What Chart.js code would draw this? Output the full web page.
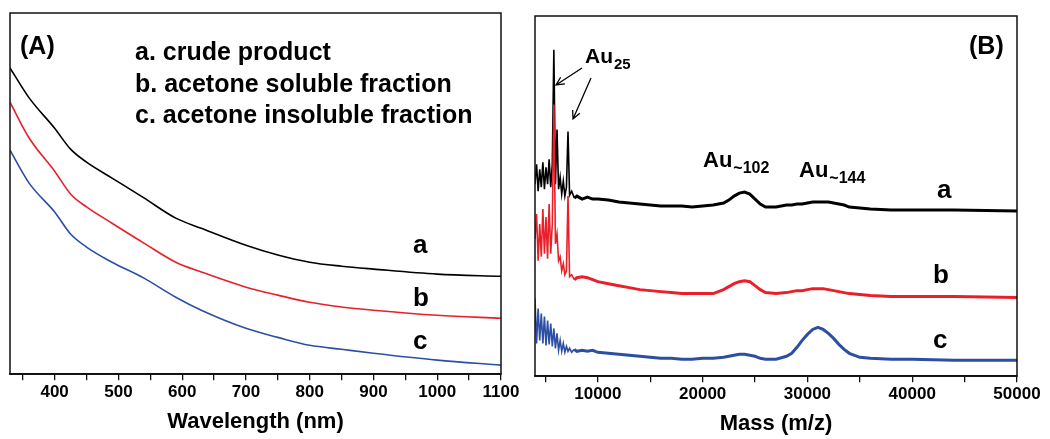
<!DOCTYPE html>
<html>
<head>
<meta charset="utf-8">
<script src="https://cdn.jsdelivr.net/npm/chart.js@4"></script>
<style>
  body { margin: 0; background: #fff; }
  #boxA { position: absolute; left: 0; top: 0; width: 530px; height: 439px; }
  #boxB { position: absolute; left: 520px; top: 0; width: 530px; height: 439px; }
</style>
</head>
<body>
<div id="boxA"><canvas id="uvChart"></canvas></div>
<div id="boxB"><canvas id="msChart"></canvas></div>
<script>
// (A) spectres UV-vis : longueur d'onde (nm) et absorbance (u.a.)
const wavelengths  = [330, 360, 400, 425, 450, 490, 540, 590, 630, 700, 750, 800, 850, 900, 1000, 1100];
const absCrude     = [0.848, 0.765, 0.681, 0.623, 0.587, 0.543, 0.488, 0.432, 0.404, 0.357, 0.330, 0.310, 0.299, 0.291, 0.277, 0.271];
const absSoluble   = [0.753, 0.654, 0.562, 0.499, 0.463, 0.418, 0.363, 0.310, 0.283, 0.241, 0.219, 0.199, 0.186, 0.177, 0.163, 0.155];
const absInsoluble = [0.620, 0.529, 0.449, 0.388, 0.352, 0.310, 0.266, 0.213, 0.177, 0.127, 0.102, 0.080, 0.069, 0.058, 0.039, 0.025];
const uvTicks = [350, 400, 450, 500, 550, 600, 650, 700, 750, 800, 850, 900, 950, 1000, 1050, 1100];

// (B) spectres de masse : m/z et intensité (u.a.)
const massX = [4000, 4150, 4300, 4450, 4600, 4750, 4900, 5050, 5200, 5350, 5500, 5650, 5800,
  5950, 6100, 6250, 6400, 6550, 6700, 6850, 7000, 7150, 7300,
  7500, 7750, 8000, 8500, 9000, 9500, 10000,
  11000, 12000, 13000, 14000, 15000, 16000, 17000, 18000, 19000, 20000, 21000,
  22000, 22500, 23000, 23500, 24000, 24500, 25000, 25500, 26000,
  27000, 28000, 28500, 29000, 29500, 30000, 30500, 31000, 31500, 32000, 32500, 33000, 33500, 34000,
  35000, 36000, 38000, 40000, 44000, 50000];
const msCrude = [193, 213, 186, 208, 190, 215, 188, 210, 193, 218, 190, 213, 328,
  193, 248, 188, 200, 183, 196, 181, 190, 246, 182,
  186, 179, 181, 178, 180, 178, 178,
  177, 175, 174, 173, 172, 171, 171, 171, 170, 171, 172,
  174, 177, 181, 184, 185, 183, 178, 173, 170,
  170, 172, 172, 173, 173, 174, 175, 175, 175, 175, 174, 173, 172, 170,
  169, 168, 167, 167, 167, 166];
const msSoluble = [138, 163, 116, 153, 120, 168, 123, 160, 118, 173, 123, 153, 273,
  133, 143, 116, 120, 106, 113, 102, 106, 181, 100,
  102, 97, 99, 100, 99, 97, 95,
  93, 91, 89, 87, 86, 85, 84, 83, 83, 83, 83,
  87, 90, 93, 95, 96, 95, 91, 87, 84,
  83, 84, 85, 86, 86, 87, 88, 88, 88, 87, 86, 85, 84, 83,
  82, 81, 80, 80, 80, 79];
const msInsoluble = [78, 33, 68, 36, 63, 33, 60, 31, 56, 32, 53, 30, 48,
  28, 43, 26, 36, 25, 33, 24, 30, 25, 28,
  24, 27, 25, 26, 25, 26, 24,
  23, 22, 21, 20, 19, 18, 18, 17, 17, 18, 18,
  19, 20, 21, 22, 22, 21, 20, 18, 17,
  17, 20, 23, 29, 36, 42, 47, 49, 47, 43, 38, 32, 27, 23,
  19, 18, 17, 17, 16, 16];
const massTicks = [5000, 10000, 15000, 20000, 25000, 30000, 35000, 40000, 45000, 50000];

const BLACK = '#000000';
const RED = '#e8202a';
const BLUE = '#2d4fa3';
const FONT = '"Liberation Sans", Arial, sans-serif';

// Cadre autour de la zone de tracé
const framePlugin = {
  id: 'frame',
  afterDatasetsDraw(chart) {
    const { ctx, chartArea: a } = chart;
    ctx.save();
    ctx.strokeStyle = '#111';
    ctx.lineWidth = 1.5;
    ctx.strokeRect(a.left, a.top, a.right - a.left, a.bottom - a.top);
    ctx.restore();
  }
};

function pts(xs, ys) {
  return xs.map((x, i) => ({ x: x, y: ys[i] }));
}

// Texte avec indice (Au25, Au~102...)
function subText(ctx, x, y, main, sub, size, subSize) {
  ctx.font = `bold ${size}px ${FONT}`;
  ctx.fillText(main, x, y);
  const w = ctx.measureText(main).width;
  ctx.font = `bold ${subSize}px ${FONT}`;
  ctx.fillText(sub, x + w + 1, y + 6);
}

function arrow(ctx, x1, y1, x2, y2) {
  const ang = Math.atan2(y2 - y1, x2 - x1);
  const len = 9;
  ctx.beginPath();
  ctx.moveTo(x1, y1);
  ctx.lineTo(x2, y2);
  ctx.moveTo(x2 - len * Math.cos(ang - 0.45), y2 - len * Math.sin(ang - 0.45));
  ctx.lineTo(x2, y2);
  ctx.lineTo(x2 - len * Math.cos(ang + 0.45), y2 - len * Math.sin(ang + 0.45));
  ctx.stroke();
}

const labelsA = {
  id: 'labelsA',
  afterDraw(chart) {
    const ctx = chart.ctx;
    ctx.save();
    ctx.fillStyle = '#000';
    ctx.textBaseline = 'alphabetic';
    ctx.font = `bold 25px ${FONT}`;
    ctx.fillText('(A)', 20, 54);
    ctx.fillText('a. crude product', 135, 60);
    ctx.fillText('b. acetone soluble fraction', 135, 92);
    ctx.fillText('c. acetone insoluble fraction', 135, 123);
    ctx.font = `bold 26px ${FONT}`;
    ctx.fillText('a', 413, 253);
    ctx.fillText('b', 413, 306);
    ctx.fillText('c', 413, 349);
    ctx.restore();
  }
};

const labelsB = {
  id: 'labelsB',
  afterDraw(chart) {
    const ctx = chart.ctx;
    ctx.save();
    ctx.fillStyle = '#000';
    ctx.strokeStyle = '#000';
    ctx.lineWidth = 1.3;
    ctx.textBaseline = 'alphabetic';
    ctx.font = `bold 25px ${FONT}`;
    ctx.fillText('(B)', 449, 54);
    subText(ctx, 65, 63, 'Au', '25', 21, 15);
    subText(ctx, 183, 167, 'Au', '~102', 22, 16);
    subText(ctx, 279, 177, 'Au', '~144', 22, 16);
    arrow(ctx, 62, 68, 36, 85);
    arrow(ctx, 71, 78, 53, 119);
    ctx.font = `bold 26px ${FONT}`;
    ctx.fillText('a', 417, 198);
    ctx.fillText('b', 413, 283);
    ctx.fillText('c', 413, 348);
    ctx.restore();
  }
};

function xAxis(min, max, tickList, major, title, titlePad) {
  return {
    type: 'linear',
    min: min,
    max: max,
    afterBuildTicks: axis => { axis.ticks = tickList.map(v => ({ value: v })); },
    grid: { drawOnChartArea: false, drawTicks: true, tickLength: 6, color: '#111', lineWidth: 1.3 },
    border: { display: true, color: '#111', width: 1.5 },
    ticks: {
      autoSkip: false,
      maxRotation: 0,
      padding: 2,
      color: '#000',
      font: { family: FONT, size: 17, weight: 'bold' },
      callback: v => (v % major === 0 ? String(v) : '')
    },
    title: {
      display: true,
      text: title,
      color: '#000',
      padding: { top: titlePad, bottom: 0 },
      font: { family: FONT, size: 22, weight: 'bold' }
    }
  };
}

new Chart(document.getElementById('uvChart'), {
  type: 'line',
  data: {
    datasets: [
      { label: 'a', data: pts(wavelengths, absCrude), borderColor: BLACK },
      { label: 'b', data: pts(wavelengths, absSoluble), borderColor: RED },
      { label: 'c', data: pts(wavelengths, absInsoluble), borderColor: BLUE }
    ]
  },
  options: {
    responsive: true,
    maintainAspectRatio: false,
    animation: false,
    layout: { padding: { left: 10, right: 29, top: 13, bottom: 4 } },
    elements: {
      point: { radius: 0 },
      line: { borderWidth: 1.6, cubicInterpolationMode: 'monotone' }
    },
    plugins: { legend: { display: false }, tooltip: { enabled: false } },
    scales: {
      x: xAxis(330, 1100, uvTicks, 100, 'Wavelength (nm)', 4),
      y: { display: false, min: 0, max: 1 }
    }
  },
  plugins: [framePlugin, labelsA]
});

// trait fin dans la zone bruitée des bas m/z, plus épais ailleurs
const msSegment = { borderWidth: c => (c.p0.parsed.x < 7600 ? 1.6 : 3) };

new Chart(document.getElementById('msChart'), {
  type: 'line',
  data: {
    datasets: [
      { label: 'a', data: pts(massX, msCrude), borderColor: BLACK, order: 2, segment: msSegment },
      { label: 'b', data: pts(massX, msSoluble), borderColor: RED, order: 1, segment: msSegment },
      { label: 'c', data: pts(massX, msInsoluble), borderColor: BLUE, order: 0, segment: msSegment }
    ]
  },
  options: {
    responsive: true,
    maintainAspectRatio: false,
    animation: false,
    layout: { padding: { left: 15, right: 33, top: 16, bottom: 2 } },
    elements: {
      point: { radius: 0 },
      line: { borderWidth: 3, tension: 0 }
    },
    plugins: { legend: { display: false }, tooltip: { enabled: false } },
    scales: {
      x: xAxis(4000, 50000, massTicks, 10000, 'Mass (m/z)', 4),
      y: { display: false, min: 0, max: 362 }
    }
  },
  plugins: [framePlugin, labelsB]
});
</script>
</body>
</html>
